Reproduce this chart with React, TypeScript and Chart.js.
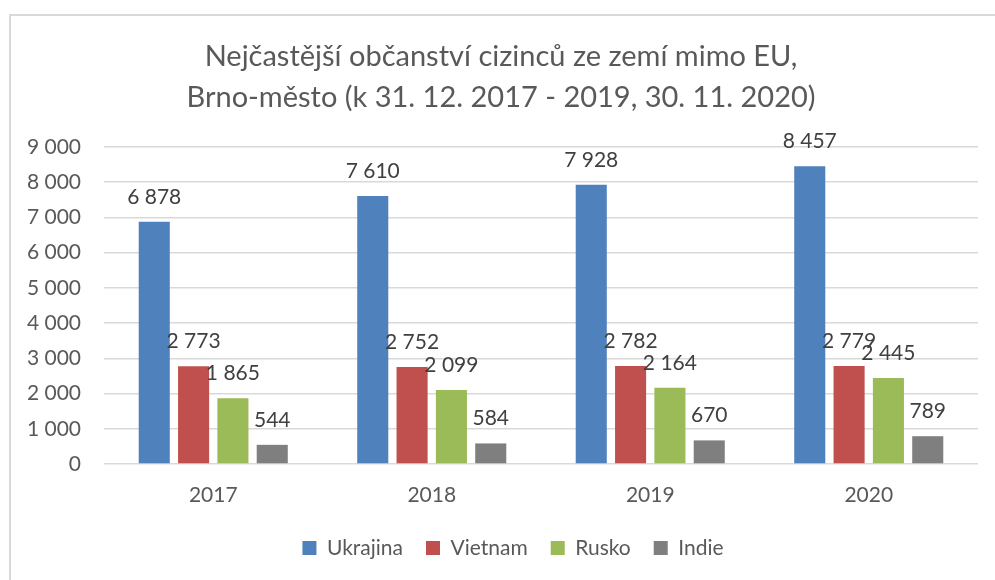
import React, { useEffect, useRef } from "react";
import { Chart, registerables } from "chart.js";

Chart.register(...registerables);

const categories = ["2017", "2018", "2019", "2020"];
const ukrajina = [6878, 7610, 7928, 8457];
const vietnam = [2773, 2752, 2782, 2779];
const rusko = [1865, 2099, 2164, 2445];
const indie = [544, 584, 670, 789];
const seriesNames = ["Ukrajina", "Vietnam", "Rusko", "Indie"];
const seriesColors = ["#4F81BD", "#C0504D", "#9BBB59", "#7F7F7F"];
const titleLines = [
  "Nejčastější občanství cizinců ze zemí mimo EU,",
  "Brno-město (k 31. 12. 2017 - 2019, 30. 11. 2020)",
];

const FONT = "Lato, 'Open Sans', sans-serif";

const fmt = (n: number) =>
  String(Math.round(n)).replace(/\B(?=(\d{3})+(?!\d))/g, " ");

const dataLabelPlugin = {
  id: "dataLabels",
  afterDatasetsDraw(chart: any) {
    const ctx = chart.ctx;
    ctx.save();
    ctx.font = `21px ${FONT}`;
    ctx.fillStyle = "#404040";
    ctx.textAlign = "center";
    ctx.textBaseline = "middle";
    chart.data.datasets.forEach((ds: any, i: number) => {
      const meta = chart.getDatasetMeta(i);
      meta.data.forEach((bar: any, j: number) => {
        ctx.fillText(fmt(ds.data[j]), bar.x, bar.y - 25);
      });
    });
    ctx.restore();
  },
};

const framePlugin = {
  id: "frame",
  beforeDraw(chart: any) {
    const ctx = chart.ctx;
    ctx.save();
    ctx.fillStyle = "#ffffff";
    ctx.fillRect(0, 0, chart.width, chart.height);
    ctx.strokeStyle = "#d9d9d9";
    ctx.lineWidth = 2;
    ctx.strokeRect(10, 15, chart.width + 20, chart.height + 20);
    ctx.restore();
  },
  afterLayout(chart: any) {
    if (chart.legend) {
      chart.legend.left += 12;
      chart.legend.right += 12;
    }
  },
};

export default function App() {
  const ref = useRef<HTMLCanvasElement | null>(null);
  useEffect(() => {
    if (!ref.current) return;
    const data = [ukrajina, vietnam, rusko, indie];
    const chart = new Chart(ref.current, {
      type: "bar",
      data: {
        labels: categories,
        datasets: data.map((d, i) => ({
          label: seriesNames[i],
          data: d,
          backgroundColor: seriesColors[i],
          borderWidth: 0,
          categoryPercentage: 0.72,
          barPercentage: 0.79,
        })),
      },
      options: {
        animation: false,
        responsive: false,
        devicePixelRatio: 1,
        layout: { padding: { left: 24, right: 17, top: 0, bottom: 11.5 } },
        plugins: {
          title: {
            display: true,
            text: titleLines,
            color: "#595959",
            font: { family: FONT, size: 29, weight: "normal", lineHeight: 41 / 29 },
            padding: { top: 36.5, bottom: 28.5 },
          },
          legend: {
            position: "bottom",
            labels: {
              boxWidth: 14,
              boxHeight: 14,
              padding: 23,
              color: "#595959",
              font: { family: FONT, size: 21 },
            },
          },
          tooltip: { enabled: false },
        },
        scales: {
          x: {
            grid: { display: false, drawTicks: false },
            border: { display: false },
            ticks: { color: "#595959", font: { family: FONT, size: 21 }, padding: 18.4 },
            afterFit(scale: any) {
              scale.height = 50.5;
            },
          },
          y: {
            min: 0,
            max: 9000,
            grid: { color: "#d9d9d9", lineWidth: 1.5, drawTicks: false },
            border: { display: false },
            ticks: {
              stepSize: 1000,
              color: "#595959",
              font: { family: FONT, size: 21 },
              padding: 23,
              callback: (v: any) => fmt(Number(v)),
            },
            afterFit(scale: any) {
              scale.width = 80;
            },
          },
        },
      },
      plugins: [framePlugin, dataLabelPlugin],
    });
    return () => chart.destroy();
  }, []);
  return (
    <div style={{ position: "absolute", left: 0, top: 0, width: 995, height: 580 }}>
      <canvas ref={ref} width={995} height={580} />
    </div>
  );
}
